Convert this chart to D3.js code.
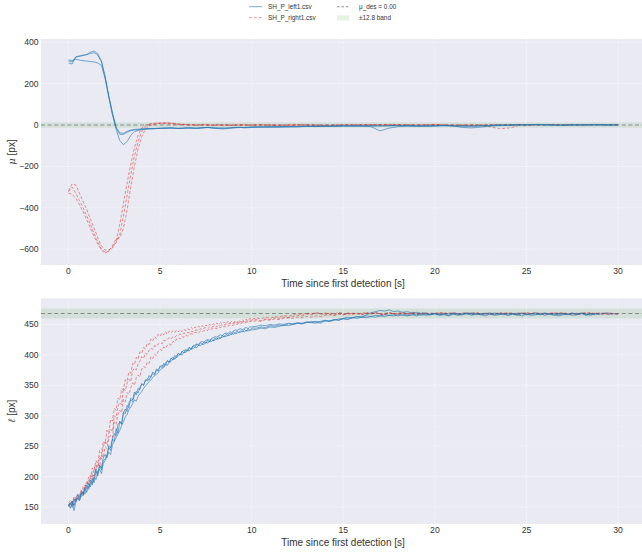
<!DOCTYPE html>
<html><head><meta charset="utf-8">
<script src="https://cdn.jsdelivr.net/npm/d3@7"></script>
<style>body{margin:0;background:#fff}svg{display:block}</style>
</head><body>
<svg id="chart" width="642" height="554"></svg>
<script>
// time stamps [s] for the mu panel
const timeMu = [0,0.2,0.4,0.6,0.8,1,1.2,1.4,1.6,1.8,2,2.2,2.4,2.6,2.8,3,3.2,3.4,3.6,3.8,4,4.2,4.4,4.6,4.8,5,5.2,5.4,5.6,5.8,6,6.2,6.4,6.6,6.8,7,7.2,7.4,7.6,7.8,8,8.2,8.4,8.6,8.8,9,9.2,9.4,9.6,9.8,10,
  10.5,11,11.5,12,12.5,13,13.5,14,14.5,15,15.5,16,16.5,17,17.5,18,18.5,19,19.5,20,20.5,21,21.5,22,22.5,23,23.5,24,24.5,25,25.5,26,26.5,27,27.5,28,28.5,29,29.5,30];

// time stamps [s] for the ell panel
const timeEll = [0,0.1,0.2,0.3,0.4,0.5,0.6,0.7,0.8,0.9,1,1.1,1.2,1.3,1.4,1.5,1.6,1.7,1.8,1.9,2,2.1,2.2,2.3,2.4,2.5,2.6,2.7,2.8,2.9,
  3,3.1,3.2,3.3,3.4,3.5,3.6,3.7,3.8,3.9,4,4.1,4.2,4.3,4.4,4.5,4.6,4.7,4.8,4.9,5,5.1,5.2,5.3,5.4,5.5,5.6,5.7,5.8,5.9,
  6,6.1,6.2,6.3,6.4,6.5,6.6,6.7,6.8,6.9,7,7.1,7.2,7.3,7.4,7.5,7.6,7.7,7.8,7.9,8,8.1,8.2,8.3,8.4,8.5,8.6,8.7,8.8,8.9,
  9,9.1,9.2,9.3,9.4,9.5,9.6,9.7,9.8,9.9,10,
  10.25,10.5,10.75,11,11.25,11.5,11.75,12,12.25,12.5,12.75,13,13.25,13.5,13.75,14,14.25,14.5,14.75,15,
  15.25,15.5,15.75,16,16.25,16.5,16.75,17,17.25,17.5,17.75,18,18.25,18.5,18.75,19,19.25,19.5,19.75,20,
  20.25,20.5,20.75,21,21.25,21.5,21.75,22,22.25,22.5,22.75,23,23.25,23.5,23.75,24,24.25,24.5,24.75,25,
  25.25,25.5,25.75,26,26.25,26.5,26.75,27,27.25,27.5,27.75,28,28.25,28.5,28.75,29,29.25,29.5,29.75,30];

// mu [px] — left runs (blue)
const muLeftA = [310,305,328,332,336,342,352,358,345,310,235,140,55,-20,-75,-95,-80,-50,-32,-26,-22,-20,-19,-18,-17,-16,-15,-15,-14,-16,-17,-16,-15,-14,-15,-17,-15,-13,-12,-13,-15,-17,-19,-18,-16,-14,-13,-12,-14,-13,-11,
  -10,-9,-11,-8,-7,-6,-8,-5,-6,-5,-4,-6,-5,-4,-3,-2,-4,-6,-5,-4,-3,-5,-7,-6,-4,-2,-1,0,1,2,2,1,0,-1,0,1,0,1,0,1];
const muLeftB = [300,295,330,334,338,340,346,350,338,305,230,135,50,-15,-45,-45,-35,-28,-24,-22,-20,-19,-18,-18,-17,-16,-16,-15,-15,-16,-16,-15,-14,-15,-16,-15,-14,-13,-12,-14,-16,-15,-14,-15,-13,-12,-11,-12,-12,-11,-10,
  -10,-11,-9,-8,-9,-7,-6,-5,-6,-4,-5,-3,-8,-28,-15,-8,-5,-4,-6,-5,-3,-4,-12,-14,-10,-6,-3,-2,0,1,2,1,0,-2,1,0,1,2,0,1];
const muLeftC = [315,312,318,314,311,309,307,305,300,288,225,138,60,-10,-38,-40,-30,-24,-21,-20,-19,-18,-17,-17,-16,-16,-15,-15,-14,-15,-16,-16,-15,-14,-14,-15,-14,-13,-12,-13,-14,-15,-16,-15,-14,-13,-12,-11,-12,-11,-10,
  -9,-8,-7,-9,-8,-6,-5,-7,-5,-4,-5,-4,-3,-5,-4,-3,-3,-5,-4,-3,-2,-4,-3,-5,-3,-2,0,-1,1,0,2,1,-1,0,1,0,2,1,0,1];
// mu [px] — right runs (red)
const muRightA = [-322,-300,-330,-365,-400,-440,-480,-525,-565,-600,-615,-612,-595,-560,-480,-380,-280,-190,-110,-50,-15,0,5,8,10,10,12,10,9,8,5,4,2,3,1,0,2,1,0,-1,0,1,-1,0,-2,-1,0,1,-1,0,-1,
  0,-2,-1,1,0,-1,-3,-2,-1,0,1,0,-1,0,1,2,0,-1,0,1,0,-1,-2,-1,0,1,2,1,0,-1,0,1,2,1,0,1,2,1,0,1];
const muRightB = [-318,-285,-290,-330,-370,-410,-455,-500,-545,-585,-605,-605,-590,-570,-530,-440,-340,-240,-150,-80,-30,-8,2,5,7,9,8,10,8,6,4,3,2,0,1,-1,0,2,0,-1,-2,0,-1,1,0,-1,-2,0,1,0,-1,
  1,0,-1,-2,0,1,0,-1,-2,-1,0,1,2,0,-1,0,1,0,-1,1,0,-1,0,-2,-4,-8,-18,-15,-6];
const muRightC = [-330,-335,-355,-385,-420,-460,-500,-540,-575,-605,-620,-608,-585,-550,-545,-500,-410,-300,-200,-115,-55,-20,-5,2,5,7,8,6,5,4,3,2,1,0,1,-1,0,1,0,-1,0,1,0,-1,-2,0,1,0,-1,0,1,
  0,1,-1,0,2,1,0,-1,0,1,-1,0,1,2,1,0,-1,0,1,2,0,-1,0,1,0,-1,0,2,1,0,1,2,3,2,1,0,1,2,1,0];

// ell [px] — left runs (blue)
const ellLeftA = [152,157,149,163,158,166,161,172,168,181,174,188,183,197,190,209,201,217,211,226,
  229,236,248,243,262,258,279,271,291,286,306,303,317,313,329,326,339,334,345,343,
  353,350,359,357,366,363,372,369,377,373,382,379,386,383,391,388,395,392,399,396,
  403,400,406,403,409,406,412,409,415,412,418,415,420,417,422,419,424,421,426,423,
  428,425,430,427,432,429,434,431,436,433,438,435,439,436,440,438,442,439,443,440,444,
  444,446,445,448,447,449,448,451,450,452,451,454,453,452,455,457,456,458,457,460,
  459,461,460,462,461,463,462,464,463,465,464,466,465,464,466,467,465,467,466,468,
  466,467,465,467,468,466,469,467,466,468,467,469,466,468,467,465,468,467,469,466,
  468,467,466,469,467,468,466,468,467,469,466,468,467,465,468,467,469,467,468,467];
const ellLeftB = [150,154,160,144,158,165,160,170,176,171,183,179,190,186,199,195,208,212,205,222,
  226,233,240,236,252,258,264,270,276,284,290,298,302,310,314,320,326,324,332,336,
  340,345,349,352,356,359,363,366,368,371,375,378,379,384,383,388,389,393,393,396,
  398,401,400,404,404,407,407,410,410,413,412,416,415,418,417,421,419,423,422,424,
  424,427,426,428,429,431,430,433,432,435,434,436,435,438,437,439,438,440,439,441,441,
  442,444,443,446,445,447,449,448,450,452,451,453,455,454,452,456,455,458,457,459,
  458,461,463,462,466,469,471,473,472,474,471,472,470,471,469,470,468,469,467,468,
  466,468,467,469,466,468,467,469,468,466,468,467,469,467,466,468,467,465,468,466,
  467,469,466,468,467,465,468,467,466,468,467,469,466,468,467,466];
const ellLeftC = [155,148,158,152,165,171,164,175,170,180,186,181,194,189,201,213,205,219,214,231,
  236,231,251,247,262,271,267,285,290,286,305,311,307,322,326,323,334,340,337,347,
  352,350,358,361,358,366,369,367,374,376,380,383,381,387,390,388,393,396,394,399,
  402,400,405,408,406,410,412,410,415,416,418,417,421,422,420,424,425,424,427,428,
  430,429,432,433,431,435,436,435,438,437,439,441,440,442,443,441,444,445,443,446,446,
  447,449,448,450,449,451,450,452,451,453,452,454,453,455,454,456,455,457,459,460,
  462,461,463,462,464,463,465,464,466,465,466,464,467,465,466,464,467,465,466,467,
  465,466,464,467,465,466,468,465,467,466,464,467,465,466,468,465,467,466,464,467,
  465,466,468,465,467,466,464,466,467,465,466,468,465,467,466];
// ell [px] — right runs (red)
const ellRightA = [157,160,156,166,161,169,166,178,172,186,184,199,196,214,210,226,221,243,238,258,
  254,276,272,294,291,312,309,329,326,344,343,359,357,372,370,386,384,396,393,405,
  403,412,410,419,417,426,423,430,427,434,431,436,433,438,434,439,436,440,437,441,
  438,441,438,442,440,443,441,445,442,446,444,447,445,448,446,449,447,450,448,451,
  449,452,450,453,451,454,451,455,452,455,452,456,453,457,454,458,455,459,456,460,458,
  461,459,462,460,463,462,465,463,466,468,466,469,467,470,468,466,469,467,470,468,
  466,469,467,468,470,467,469,466,468,470,467,469,468,466,469,467,470,468,466,469,
  468,470,467,469,466,468,470,467,469,468,466,469,467,470,468,467,469,466,468,470,
  467,469,468,466,469,467,470,468,467,469,466,468,470,467,469,468,466,469,467,468];
const ellRightB = [153,158,151,164,160,168,172,167,184,181,193,188,202,198,213,220,215,233,229,249,
  257,253,271,278,274,300,297,315,322,318,345,341,354,360,356,374,378,375,385,390,
  397,394,403,401,408,411,409,415,414,418,420,418,424,423,426,428,426,430,429,432,
  432,434,433,436,435,437,436,439,438,440,441,440,443,442,444,445,443,446,445,447,
  447,446,449,448,450,449,451,450,452,451,452,453,452,454,453,455,454,456,455,457,457,
  458,456,459,458,461,460,462,461,463,465,464,467,466,468,467,469,467,465,468,466,
  469,467,468,466,469,468,470,467,466,469,468,466,469,467,470,468,467,469,466,468,
  470,467,469,468,466,469,467,468,470,467,469,466,468,467,469,468,466,470,467,469,
  468,466,469,467,468,470,467,469,466,468,467,469,468,466,469,467,468,470,467,468];
const ellRightC = [151,155,160,153,166,162,170,176,171,186,184,194,190,205,201,213,221,216,235,231,
  249,246,262,268,264,290,286,302,309,305,327,323,338,335,346,354,350,363,367,364,
  377,381,379,388,386,397,394,401,399,406,409,407,413,411,416,418,416,422,421,426,
  428,426,430,429,432,431,433,435,434,437,437,436,439,438,440,441,440,443,442,444,
  444,443,446,445,447,446,448,447,449,448,449,451,450,452,451,453,452,454,453,455,455,
  456,455,458,457,459,458,460,461,460,462,461,463,462,464,463,465,466,465,467,466,
  468,467,469,466,468,467,469,468,466,469,467,468,470,467,469,466,468,467,469,468,
  466,469,467,470,468,467,469,466,468,467,469,468,466,469,467,470,468,466,469,467,
  468,470,467,469,466,468,467,469,468,466,469,467,468,470,467,469,468,466,468,467];

const xTicks = [0,5,10,15,20,25,30];
const muTicks = [-600,-400,-200,0,200,400];
const ellTicks = [150,200,250,300,350,400,450];
const muDes = 0, muBand = 12.8;
const ellDes = 468, ellBand = 8;
const legendLabels = ["SH_P_left1.csv","SH_P_right1.csv","μ_des = 0.00","±12.8 band"];

const svg = d3.select("#chart");
const FONT = "'Liberation Sans', Arial, sans-serif";
const BLUE = "#1f77b4", RED = "#d62728";
const L = 41, R = 645.6;
const x = d3.scaleLinear().domain([-1.5, 31.5]).range([L, R]);

function panel(top, bottom, yDomain, yTicks, time, seriesL, seriesR, des, band, ylabelSym, clipId) {
  const y = d3.scaleLinear().domain(yDomain).range([bottom, top]);
  const g = svg.append("g");
  svg.append("clipPath").attr("id", clipId).append("rect")
    .attr("x", L).attr("y", top).attr("width", R - L).attr("height", bottom - top);
  g.append("rect").attr("x", L).attr("y", top).attr("width", R - L).attr("height", bottom - top).attr("fill", "#eaeaf2");
  g.selectAll(".gx").data(xTicks).join("line")
    .attr("x1", d => x(d)).attr("x2", d => x(d)).attr("y1", top).attr("y2", bottom)
    .attr("stroke", "#fff").attr("stroke-width", 0.8).attr("stroke-dasharray", "1,1.6");
  g.selectAll(".gy").data(yTicks).join("line")
    .attr("x1", L).attr("x2", R).attr("y1", d => y(d)).attr("y2", d => y(d))
    .attr("stroke", "#fff").attr("stroke-width", 0.8).attr("stroke-dasharray", "1,1.6");
  const inner = g.append("g").attr("clip-path", `url(#${clipId})`);
  inner.append("rect").attr("x", L).attr("width", R - L)
    .attr("y", y(des + band)).attr("height", y(des - band) - y(des + band))
    .attr("fill", "#2ca02c").attr("fill-opacity", 0.12);
  inner.append("line").attr("x1", L).attr("x2", R).attr("y1", y(des)).attr("y2", y(des))
    .attr("stroke", "#6e6e6e").attr("stroke-opacity", 0.75).attr("stroke-width", 1.1).attr("stroke-dasharray", "4,2.6");
  const line = d3.line().x((v, i) => x(time[i])).y(v => y(v));
  seriesR.forEach(s => inner.append("path").attr("d", line(s)).attr("fill", "none")
    .attr("stroke", RED).attr("stroke-opacity", 0.55).attr("stroke-width", 0.9).attr("stroke-dasharray", "3,1.8"));
  seriesL.forEach(s => inner.append("path").attr("d", line(s)).attr("fill", "none")
    .attr("stroke", BLUE).attr("stroke-opacity", 0.6).attr("stroke-width", 1));
  g.selectAll(".tx").data(xTicks).join("text")
    .attr("x", d => x(d)).attr("y", bottom + 8.5).attr("text-anchor", "middle")
    .attr("font-family", FONT).attr("font-size", 8.6).attr("fill", "#333").text(d => d);
  g.selectAll(".ty").data(yTicks).join("text")
    .attr("x", 38.5).attr("y", d => y(d) + 3).attr("text-anchor", "end")
    .attr("font-family", FONT).attr("font-size", 8.6).attr("fill", "#333")
    .text(d => d < 0 ? "\u2212" + Math.abs(d) : d);
  g.append("text").attr("x", 343).attr("y", bottom + 21.5).attr("text-anchor", "middle")
    .attr("font-family", FONT).attr("font-size", 10).attr("fill", "#333").text("Time since first detection [s]");
  const yl = g.append("text").attr("transform", `translate(15,${(top + bottom) / 2}) rotate(-90)`)
    .attr("text-anchor", "middle").attr("font-family", FONT).attr("font-size", 10).attr("fill", "#333");
  yl.append("tspan").attr("font-style", "italic").attr("font-family", "'DejaVu Serif', serif").text(ylabelSym);
  yl.append("tspan").text("  [px]");
}

panel(39, 265, [-677, 416], muTicks, timeMu, [muLeftA, muLeftB, muLeftC], [muRightA, muRightB, muRightC], muDes, muBand, "μ", "c1");
panel(298.3, 524, [122, 493], ellTicks, timeEll, [ellLeftA, ellLeftB, ellLeftC], [ellRightA, ellRightB, ellRightC], ellDes, ellBand, "ℓ", "c2");

// legend
const lg = svg.append("g").attr("font-family", FONT).attr("font-size", 6.4).attr("fill", "#333");
lg.append("line").attr("x1", 249).attr("x2", 262).attr("y1", 6.7).attr("y2", 6.7)
  .attr("stroke", BLUE).attr("stroke-opacity", 0.6).attr("stroke-width", 1);
lg.append("line").attr("x1", 249).attr("x2", 262).attr("y1", 17.7).attr("y2", 17.7)
  .attr("stroke", RED).attr("stroke-opacity", 0.55).attr("stroke-width", 0.9).attr("stroke-dasharray", "3,1.8");
lg.append("line").attr("x1", 337).attr("x2", 350).attr("y1", 6.7).attr("y2", 6.7)
  .attr("stroke", "#6e6e6e").attr("stroke-opacity", 0.75).attr("stroke-width", 1.1).attr("stroke-dasharray", "2.6,1.8");
lg.append("rect").attr("x", 337).attr("y", 15.3).attr("width", 12.5).attr("height", 5.2)
  .attr("fill", "#2ca02c").attr("fill-opacity", 0.12);
lg.append("text").attr("x", 268).attr("y", 9).text(legendLabels[0]);
lg.append("text").attr("x", 268).attr("y", 20).text(legendLabels[1]);
lg.append("text").attr("x", 359).attr("y", 9).text(legendLabels[2]);
lg.append("text").attr("x", 359).attr("y", 20).text(legendLabels[3]);
</script>
</body></html>
